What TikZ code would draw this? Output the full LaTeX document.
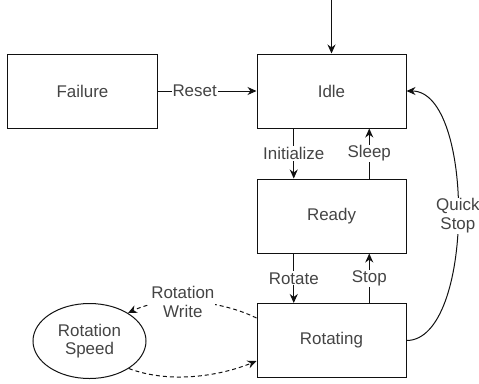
\documentclass[tikz,border=0pt]{standalone}
\usepackage{fontspec}
\setmainfont{Liberation Sans}
\usetikzlibrary{arrows.meta,shapes.geometric,calc}
\definecolor{txt}{HTML}{444444}
\definecolor{ln}{HTML}{111111}
\begin{document}
\begin{tikzpicture}[x=1bp,y=-1bp,
  lbfont/.style={font=\fontsize{17}{19.5}\selectfont, text=txt},
  state/.style={draw=ln, line width=1bp, minimum width=149bp, minimum height=74bp, inner sep=0pt, lbfont},
  lbl/.style={fill=white, inner sep=1bp, lbfont, align=center},
  arr/.style={draw=ln, line width=1bp, -{Stealth[length=9bp,width=8bp]}},
  darr/.style={arr, dashed, dash pattern=on 4bp off 3bp}]
\useasboundingbox (0,0) rectangle (479,383);
\node[state] (fail) at (82.5,91) {Failure};
\node[state] (idle) at (331.5,91) {Idle};
\node[state] (ready) at (331.5,216) {Ready};
\node[state] (rot) at (331.5,340.5) {Rotating};
\node[draw=ln, line width=1bp, ellipse, minimum width=113bp, minimum height=75bp, inner sep=0pt, lbfont, align=center] (speed) at (89.5,341) {Rotation\\[-1bp]Speed};
\coordinate (start) at (331.5,0);
\draw[arr] (start) -- (idle.north);
\draw[arr] (fail.east) -- node[lbl, pos=0.375] {Reset} (idle.west);
\draw[arr] ($(idle.south west)+(37.25,0)$) -- node[lbl] {Initialize} ($(ready.north west)+(37.25,0)$);
\draw[arr] ($(ready.north east)+(-37.25,0)$) -- node[lbl] {Sleep} ($(idle.south east)+(-37.25,0)$);
\draw[arr] ($(ready.south west)+(37.25,0)$) -- node[lbl] {Rotate} ($(rot.north west)+(37.25,0)$);
\draw[arr] ($(rot.north east)+(-37.25,0)$) -- node[lbl] {Stop} ($(ready.south east)+(-37.25,0)$);
\draw[arr] (rot.east) .. controls (475,340.5) and (475,91) .. node[lbl, pos=0.5] {Quick\\[-1bp]Stop} (idle.east);
\draw[darr] ($(rot.west)+(0,-22.5)$) .. controls (220,300) and (165,295) .. node[lbl, pos=0.57] {Rotation\\[-1bp]Write} (speed.36);
\draw[darr] (speed.-35) .. controls (170,384) and (220,376) .. ($(rot.west)+(0,20.5)$);
\end{tikzpicture}
\end{document}
